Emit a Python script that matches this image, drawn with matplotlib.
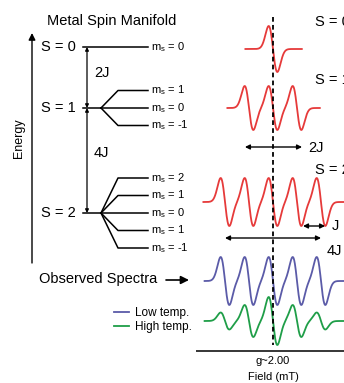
"""Metal spin manifold energy levels next to their EPR spectra."""

import numpy as np
import matplotlib
matplotlib.use("Agg")
import matplotlib.pyplot as plt

plt.rcParams["font.family"] = ["Liberation Sans", "DejaVu Sans"]

# ---- data -------------------------------------------------------------
spin_labels = ["S = 0", "S = 1", "S = 2"]
ms_labels = [
    ["0"],
    ["1", "0", "-1"],
    ["2", "1", "0", "1", "-1"],
]
gap_labels = ["2J", "4J"]

# EPR lines: positions in units of J from g~2.00, peak amplitudes (px)
s0_pos = [0]
s0_amp = [23]
s1_pos = [-1, 0, 1]
s1_amp = [22, 22, 22]
s2_pos = [-2, -1, 0, 1, 2]
s2_amp = [24, 24, 24, 24, 24]
low_temp_amp = [24, 24, 24, 24, 24]
high_temp_amp = [8.5, 16, 24, 16, 8.5]

# ---- layout -------------------------------------------------------------
RED = "#e63a3a"
BLUE = "#5b5ba8"
GREEN = "#1f9e48"
W, H = 344, 383

fig = plt.figure(figsize=(W / 100, H / 100), dpi=100)
ax = fig.add_axes([0, 0, 1, 1])
ax.set_xlim(0, W)
ax.set_ylim(H, 0)
ax.axis("off")

# spectra panel: x in units of J, y shares the pixel scale
x0_px, xc_px, j_px = 196, 273, 24
sx = fig.add_axes([x0_px / W, 0, (W - x0_px) / W, 1])
sx.set_xlim((x0_px - xc_px) / j_px, (W - xc_px) / j_px)
sx.set_ylim(H, 0)
sx.axis("off")
sx.patch.set_alpha(0)

# ---- energy level diagram ----------------------------------------------
ax.text(112, 21, "Metal Spin Manifold", fontsize=10.5, ha="center", va="center")
ax.annotate("", xy=(32, 33), xytext=(32, 263),
            arrowprops=dict(arrowstyle="-|>", color="black", lw=1.0,
                            mutation_scale=10, shrinkA=0, shrinkB=0))
ax.text(19, 138, "Energy", fontsize=9, rotation=90, ha="center", va="center")

level_y = [47, 108, 213]
split = 17.5
for label, y, ms in zip(spin_labels, level_y, ms_labels):
    ax.text(41, y, label, fontsize=10.5, ha="left", va="center")
    n = len(ms)
    offsets = (np.arange(n) - (n - 1) / 2) * split
    if n == 1:
        ax.plot([83, 148], [y, y], color="black", lw=1.1)
    else:
        ax.plot([83, 101], [y, y], color="black", lw=1.1)
    for m, off in zip(ms, offsets):
        if n > 1:
            ax.plot([101, 118, 148], [y, y + off, y + off], color="black", lw=1.1)
        ax.text(151, y + off, r"m$_\mathregular{s}$ = " + m, fontsize=8,
                ha="left", va="center")

gap_x = 87
for (ya, yb), lab in zip(zip(level_y[:-1], level_y[1:]), gap_labels):
    ax.annotate("", xy=(gap_x, ya), xytext=(gap_x, yb),
                arrowprops=dict(arrowstyle="<|-|>", color="black", lw=0.9,
                                mutation_scale=5, shrinkA=0, shrinkB=0))
    ax.text(94, ya + (yb - ya) * 0.43, lab, fontsize=10.5, ha="left", va="center")

ax.text(39, 279, "Observed Spectra", fontsize=10.5, ha="left", va="center")
ax.annotate("", xy=(189, 280), xytext=(166, 280),
            arrowprops=dict(arrowstyle="-|>", color="black", lw=1.2,
                            mutation_scale=12, shrinkA=0, shrinkB=0))

# ---- spectra -------------------------------------------------------------
sigma = 0.18


def epr_trace(positions, amps, start, stop):
    """Sum of first-derivative Gaussian lines."""
    field = np.linspace(start, stop, 800)
    signal = np.zeros_like(field)
    for p, a in zip(positions, amps):
        u = (field - p) / sigma
        signal += -a * u * np.exp(0.5 - u ** 2 / 2)
    return field, signal


traces = [
    (s0_pos, s0_amp, 49, (-1.15, 1.2), RED),
    (s1_pos, s1_amp, 108, (-1.9, 1.95), RED),
    (s2_pos, s2_amp, 202, (-2.9, 3.0), RED),
    (s2_pos, low_temp_amp, 281, (-2.85, 3.0), BLUE),
    (s2_pos, high_temp_amp, 321, (-2.85, 3.0), GREEN),
]
lines = []
for pos, amp, base, (a, b), col in traces:
    f, s = epr_trace(pos, amp, a, b)
    ln, = sx.plot(f, base - s, color=col, lw=1.3)
    lines.append(ln)

sx.plot([0, 0], [17, 345], color="black", lw=1.3, dashes=(2.6, 1.8), zorder=5)
sx.axhline(351, color="black", lw=1.1)
sx.text(0, 361, "g~2.00", fontsize=8, ha="center", va="center")
sx.text(0, 377, "Field (mT)", fontsize=8, ha="center", va="center")

# right-hand annotations
for lab, y in zip(spin_labels, [22, 80, 170]):
    sx.text(1.74, y, lab, fontsize=10.5, ha="left", va="center")


def double_arrow(x1, x2, y):
    sx.annotate("", xy=(x1, y), xytext=(x2, y),
                arrowprops=dict(arrowstyle="<|-|>", color="black", lw=1.0,
                                mutation_scale=7, shrinkA=0, shrinkB=0))


double_arrow(-1.17, 1.21, 147)
sx.text(1.45, 148, "2J", fontsize=10.5, ha="left", va="center")
double_arrow(1.25, 2.17, 226)
sx.text(2.45, 226, "J", fontsize=10.5, ha="left", va="center")
double_arrow(-2.0, 2.0, 238)
sx.text(2.25, 251, "4J", fontsize=10.5, ha="left", va="center")

# legend
ax.legend([lines[3], lines[4]], ["Low temp.", "High temp."],
          loc="center left", bbox_to_anchor=(114, 320),
          bbox_transform=ax.transData, frameon=False, fontsize=8.5,
          handlelength=1.3, handletextpad=0.45, labelspacing=0.15,
          borderpad=0, borderaxespad=0)

fig.savefig("out.png", dpi=100)
